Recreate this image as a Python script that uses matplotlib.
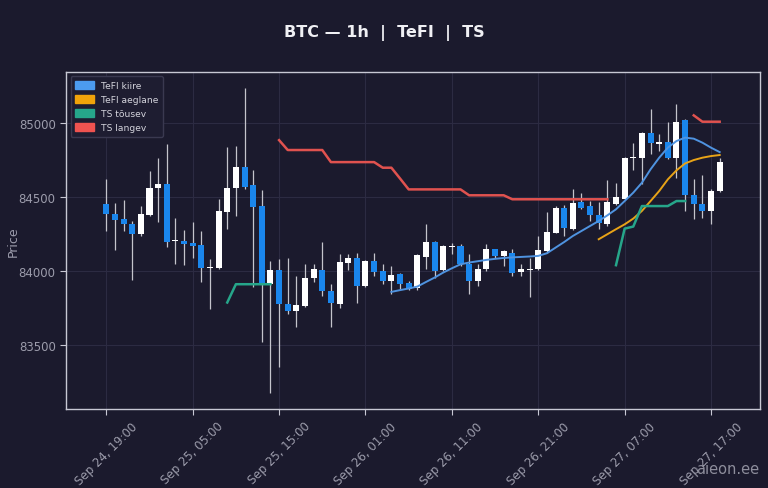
import numpy as np
import pandas as pd
import matplotlib
matplotlib.use("Agg")
import matplotlib.pyplot as plt
from matplotlib.patches import Patch

# 1h candles, Sep 24 19:00 -> Sep 27 18:00
start = "2024-09-24 19:00"
opens = [84452, 84389, 84350, 84321, 84253, 84377, 84565, 84592, 84200, 84206,
         84192, 84176, 84021, 84023, 84400, 84560, 84707, 84585, 84440, 83910,
         84005, 83779, 83729, 83763, 83949, 84005, 83865, 83779, 84057, 84091,
         83898, 84068, 84000, 83932, 83977, 83917, 83881, 84097, 84195, 84005,
         84165, 84169, 84045, 83932, 84012, 84147, 84102, 84125, 83993, 84008,
         84012, 84135, 84260, 84430, 84287, 84467, 84440, 84377, 84316, 84452,
         84490, 84765, 84769, 84938, 84858, 84874, 84769, 85023, 84513, 84452,
         84407, 84542]
highs = [84621, 84463, 84479, 84339, 84440, 84678, 84768, 84858, 84362, 84278,
         84335, 84271, 84084, 84486, 84838, 84847, 85242, 84682, 84547, 84068,
         84080, 84090, 83966, 84045, 84050, 84199, 83910, 84113, 84113, 84120,
         84075, 84125, 84045, 84034, 83989, 83932, 84113, 84317, 84201, 84175,
         84192, 84181, 84113, 84045, 84181, 84150, 84140, 84152, 84045, 84091,
         84237, 84400, 84440, 84445, 84553, 84526, 84474, 84467, 84617, 84594,
         84775, 84865, 84945, 85100, 84926, 85010, 85130, 85030, 84626, 84648,
         84553, 84769]
lows = [84271, 84142, 84271, 83937, 84237, 84373, 84335, 84159, 84050, 84039,
        84091, 83925, 83741, 84015, 84283, 84373, 84555, 83888, 83515, 83170,
        83350, 83707, 83617, 83755, 83928, 83831, 83621, 83752, 84005, 83781,
        83890, 83966, 83910, 83842, 83876, 83871, 83871, 84012, 83949, 84000,
        84113, 84034, 83842, 83898, 84000, 84090, 84034, 83966, 83966, 83820,
        84005, 84125, 84255, 84237, 84280, 84418, 84339, 84283, 84305, 84445,
        84485, 84684, 84587, 84790, 84813, 84760, 84633, 84407, 84350, 84362,
        84316, 84535]
closes = [84384, 84346, 84321, 84253, 84384, 84565, 84592, 84196, 84210, 84186,
          84172, 84023, 84028, 84406, 84565, 84705, 84569, 84436, 83910, 84005,
          83774, 83729, 83770, 83955, 84012, 83865, 83786, 84064, 84091, 83898,
          84068, 83993, 83932, 83971, 83910, 83876, 84106, 84195, 84000, 84169,
          84172, 84045, 83932, 84012, 84147, 84102, 84133, 83984, 84012, 84014,
          84142, 84264, 84430, 84294, 84463, 84430, 84377, 84328, 84467, 84504,
          84769, 84773, 84938, 84870, 84874, 84769, 85012, 84513, 84452, 84407,
          84542, 84738]

N = None
tefi_fast = [N] * 33 + [
    83858, 83870, 83881, 83894, 83925, 83955, 83989, 84018, 84045, 84057,
    84066, 84075, 84082, 84088, 84092, 84095, 84098, 84102, 84120, 84158,
    84196, 84237, 84271, 84305, 84339, 84377, 84418, 84474, 84531, 84598,
    84689, 84768, 84836, 84881, 84904, 84897, 84870, 84836, 84806]
tefi_slow = [N] * 57 + [
    84215, 84249, 84283, 84316, 84355, 84407, 84474, 84542, 84621, 84682,
    84729, 84752, 84768, 84779, 84786]
ts_up = [N] * 14 + [83786, 83910, 83910, 83910, 83910, 83910] + [N] * 39 + [
    84039, 84287, 84301, 84440, 84440, 84440, 84440, 84474, 84474] + [N] * 4
ts_down = [N] * 20 + [
    84887, 84820, 84820, 84820, 84820, 84820, 84738, 84738, 84738, 84738,
    84738, 84738, 84700, 84700, 84627, 84553, 84553, 84553, 84553, 84553,
    84553, 84553, 84513, 84513, 84513, 84513, 84513, 84486, 84486, 84486,
    84486, 84486, 84486, 84486, 84486, 84486, 84486, 84486, 84486] + [N] * 9 + [
    85055, 85012, 85012, 85012]

def arr(v):
    return np.array([np.nan if a is None else a for a in v], dtype=float)

bg = "#1b1a2d"
up_col = "#ffffff"
down_col = "#1a86ec"
wick_col = "#c4c4cc"
fast_col = "#4f93e0"
slow_col = "#e8a317"
up_ts_col = "#26a68a"
down_ts_col = "#e0524f"

fig = plt.figure(figsize=(7.68, 4.89), dpi=100, facecolor=bg)
ax = fig.add_axes([0.086, 0.1616, 0.9036, 0.6894], facecolor=bg)

x = np.arange(len(opens))
o = np.array(opens); h = np.array(highs); l = np.array(lows); c = np.array(closes)
rising = c >= o

ax.vlines(x, l, h, color=wick_col, linewidth=0.9, zorder=2)
ax.bar(x[rising], (c - o)[rising], bottom=o[rising], width=0.7,
       color=up_col, zorder=3)
ax.bar(x[~rising], (o - c)[~rising], bottom=c[~rising], width=0.7,
       color=down_col, zorder=3)

ax.plot(x, arr(tefi_fast), color=fast_col, lw=1.4, zorder=4)
ax.plot(x, arr(tefi_slow), color=slow_col, lw=1.4, zorder=4)
ax.plot(x, arr(ts_up), color=up_ts_col, lw=1.8, zorder=4)
ax.plot(x, arr(ts_down), color=down_ts_col, lw=1.8, zorder=4)

ax.set_xlim(-4.66, 75.67)
ax.set_ylim(83064, 85350)
ax.set_yticks([83500, 84000, 84500, 85000])

times = pd.date_range(start, periods=len(opens), freq="h")
ticks = x[::10]
ax.set_xticks(ticks)
ax.set_xticklabels([times[i].strftime("%b %d, %H:%M") for i in ticks],
                   rotation=45, ha="center")

ax.grid(True, color="#2c2b42", linewidth=0.8, zorder=0)
ax.set_axisbelow(True)
for s in ax.spines.values():
    s.set_color("#c8c8d4")
    s.set_linewidth(1.0)
ax.tick_params(colors="#c8c8d4", labelcolor="#9c9cab", labelsize=8.5, length=4)
ax.set_ylabel("Price", color="#9c9cab", fontsize=9, labelpad=-0.5)

fig.suptitle("BTC — 1h  |  TeFI  |  TS", color="#f0f0f4", fontsize=11.5,
             fontweight="bold", y=0.948)

handles = [Patch(color="#4c9bef", label="TeFI kiire"),
           Patch(color="#f0a30a", label="TeFI aeglane"),
           Patch(color=up_ts_col, label="TS tõusev"),
           Patch(color="#ef5350", label="TS langev")]
leg = ax.legend(handles=handles, loc="upper left", fontsize=6.6,
                facecolor="#1e1d31", edgecolor="#3a3950", framealpha=1.0,
                handlelength=2.0, handleheight=0.9, borderpad=0.5,
                labelspacing=0.55)
for t in leg.get_texts():
    t.set_color("#d4d4dc")

fig.text(0.948, 0.04, "aieon.ee", color="#8e8e9c", fontsize=10.5,
         ha="center", va="center")

fig.savefig("out.png", dpi=100, facecolor=bg)
